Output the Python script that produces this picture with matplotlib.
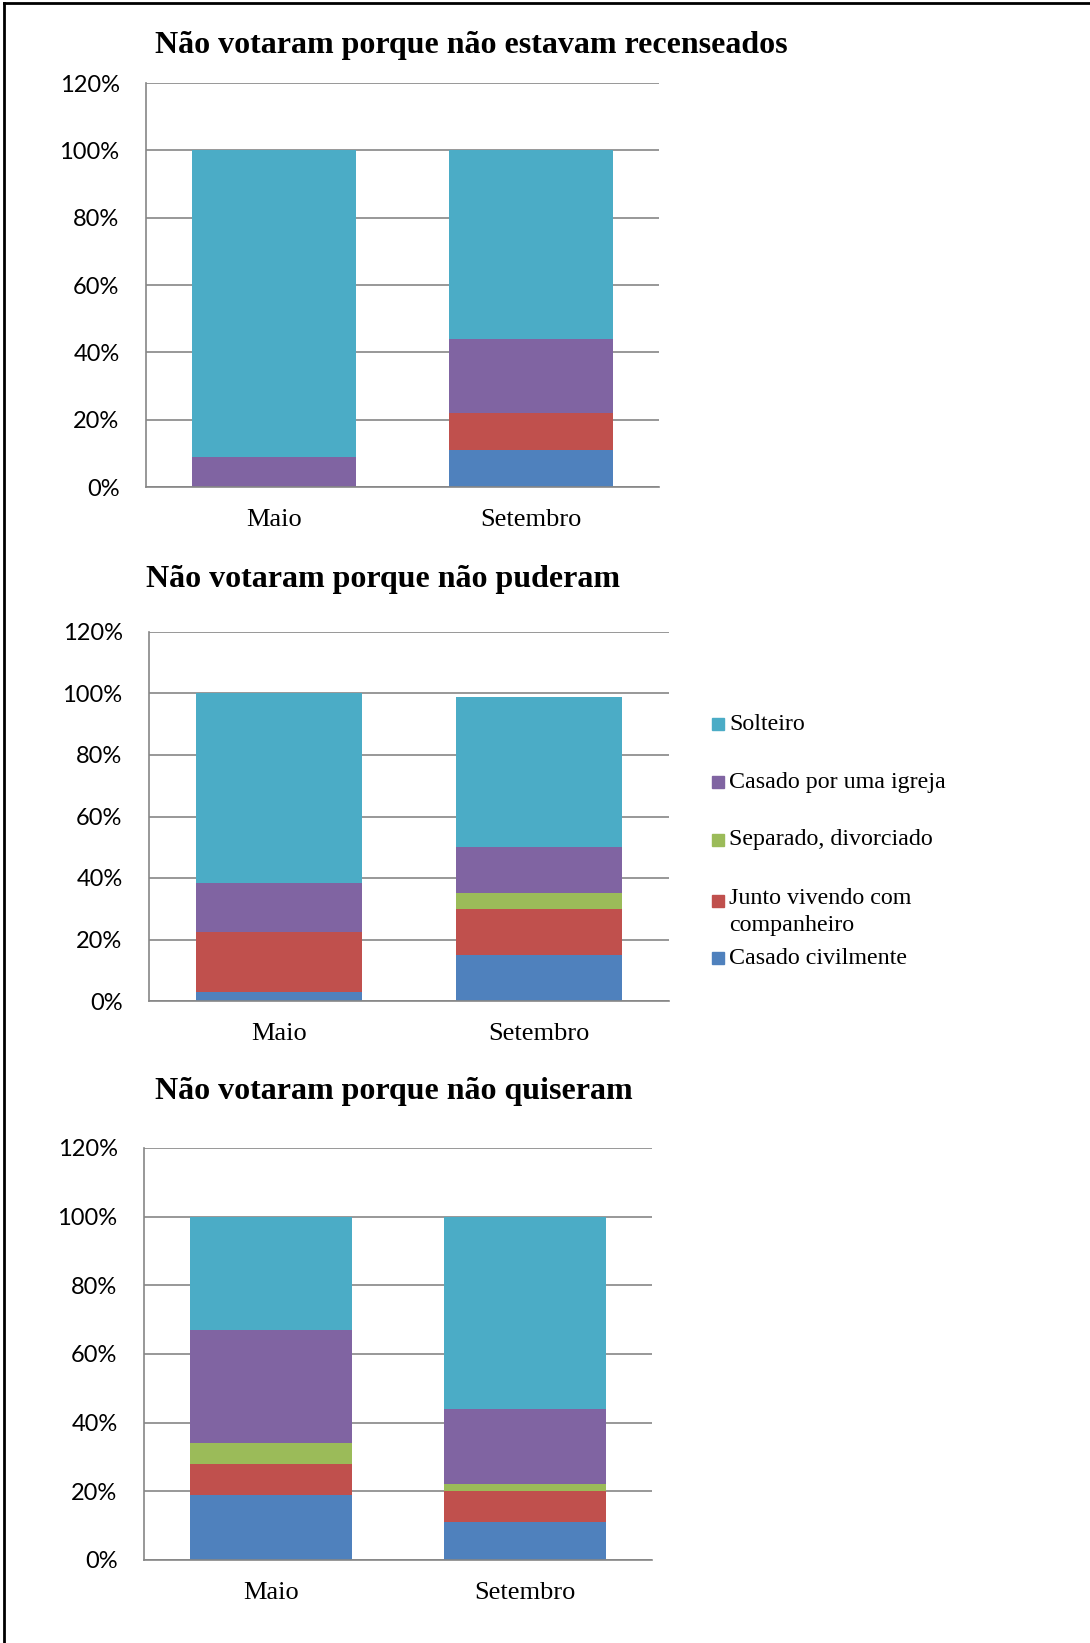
import matplotlib
matplotlib.use("Agg")
import matplotlib.pyplot as plt
from matplotlib.lines import Line2D
from matplotlib.patches import Rectangle
from matplotlib.ticker import FuncFormatter

W, H = 1090, 1643

months = ["Maio", "Setembro"]
series = ["Casado civilmente", "Junto vivendo com\ncompanheiro", "Separado, divorciado",
          "Casado por uma igreja", "Solteiro"]
colors = ["#4F81BD", "#C0504D", "#9BBB59", "#8064A2", "#4BACC6"]

titles = ["Não votaram porque não estavam recenseados",
          "Não votaram porque não puderam",
          "Não votaram porque não quiseram"]

# percent values per series (bottom to top), [Maio, Setembro]
recenseados = [[0, 11], [0, 11], [0, 0], [9, 22], [91, 56]]
puderam = [[3, 15], [19.5, 15], [0, 5], [16, 15], [61.5, 49]]
quiseram = [[19, 11], [9, 9], [6, 2], [33, 22], [33, 56]]
datasets = [recenseados, puderam, quiseram]

# axes boxes in pixels: left, top, right, bottom
boxes = [(146, 83, 659, 487), (149, 632, 669, 1001), (144, 1148, 652, 1560)]
title_pos = [(471, 45), (383, 580), (394, 1091)]

serif = "Liberation Serif"
sans = "Lato"
grey = "#868686"

fig = plt.figure(figsize=(W / 100, H / 100), dpi=100)

for data, box, title, tp in zip(datasets, boxes, titles, title_pos):
    l, t, r, b = box
    ax = fig.add_axes([l / W, 1 - b / H, (r - l) / W, (b - t) / H])
    bottom = [0, 0]
    for vals, c in zip(data, colors):
        v = [x / 100 for x in vals]
        ax.bar([0, 1], v, width=0.64, bottom=bottom, color=c, edgecolor="none", zorder=2)
        bottom = [bottom[i] + v[i] for i in range(2)]
    ax.set_xlim(-0.5, 1.5)
    ax.set_ylim(0, 1.2)
    ax.set_yticks([0, 0.2, 0.4, 0.6, 0.8, 1.0, 1.2])
    ax.yaxis.set_major_formatter(FuncFormatter(lambda y, p: "%d%%" % round(y * 100)))
    ax.set_xticks([0, 1])
    ax.set_xticklabels(months, fontfamily=serif, fontsize=19)
    for lab in ax.get_yticklabels():
        lab.set_fontfamily(sans)
        lab.set_fontsize(17)
    ax.grid(axis="y", color=grey, linewidth=1.2, zorder=0)
    ax.tick_params(axis="y", length=0, pad=19)
    ax.tick_params(axis="x", length=0, pad=16)
    for s in ["top", "right"]:
        ax.spines[s].set_visible(False)
    for s in ["left", "bottom"]:
        ax.spines[s].set_color(grey)
        ax.spines[s].set_linewidth(1.2)
    fig.text(tp[0] / W, 1 - tp[1] / H, title, fontfamily=serif, fontweight="bold",
             fontsize=23, ha="center", va="center")

# legend, top to bottom
leg_y = [724, 782, 840, 901, 958]
for name, c, y in zip(series[::-1], colors[::-1], leg_y):
    fig.patches.append(Rectangle((712 / W, 1 - (y + 6) / H), 12 / W, 12 / H,
                                 transform=fig.transFigure, color=c))
    fig.text(729 / W, 1 - (y - 13) / H if "\n" in name else 1 - y / H, name,
             fontfamily=serif, fontsize=17.3, ha="left",
             va="top" if "\n" in name else "center", linespacing=1.4)

# page frame
fig.add_artist(Line2D([4 / W, 4 / W], [0, 1 - 3 / H], color="black", lw=2))
fig.add_artist(Line2D([4 / W, 1], [1 - 3 / H, 1 - 3 / H], color="black", lw=2))

fig.savefig("out.png", dpi=100)
